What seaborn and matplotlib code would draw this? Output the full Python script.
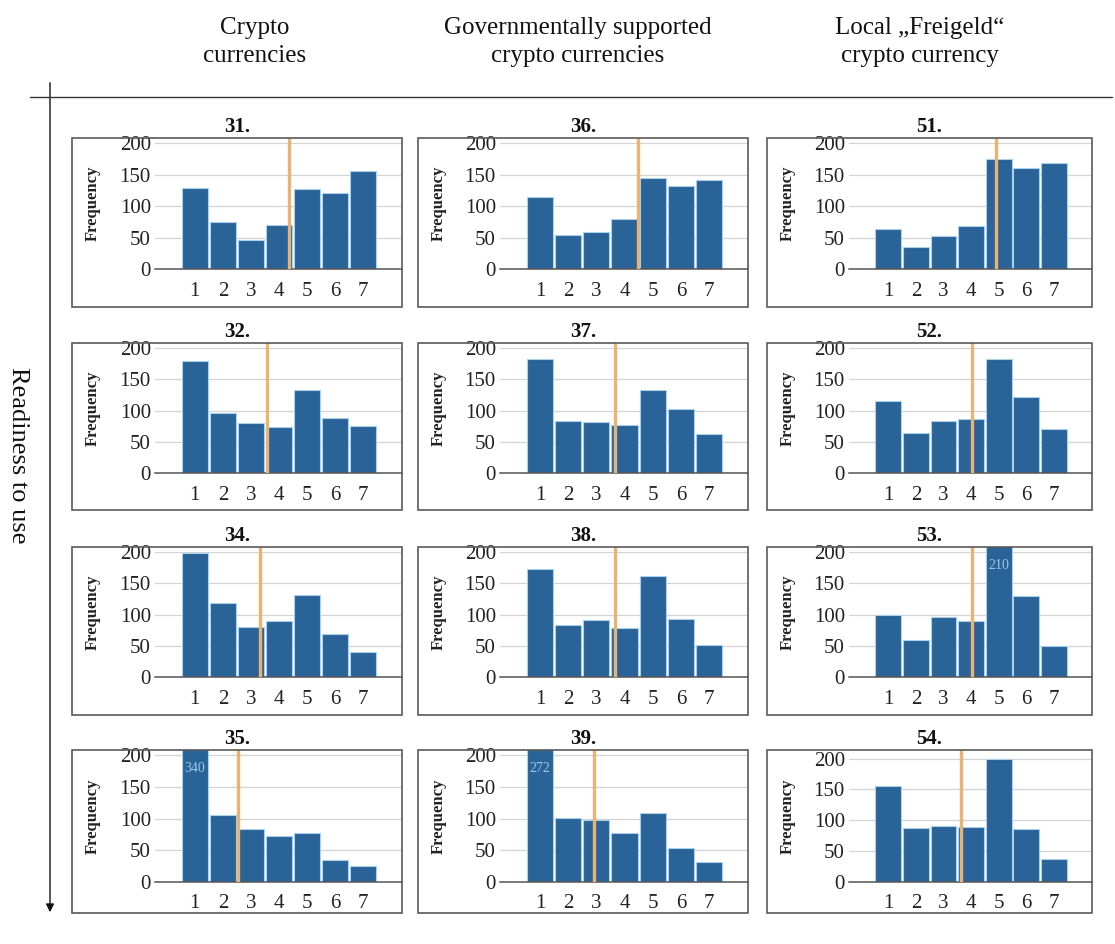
import numpy as np
import pandas as pd
import matplotlib
matplotlib.use("Agg")
import matplotlib.pyplot as plt
import seaborn as sns
from matplotlib.patches import Rectangle, FancyArrowPatch
from matplotlib.lines import Line2D
import matplotlib.transforms as mtransforms

# ---------------- data ----------------
levels = [1, 2, 3, 4, 5, 6, 7]
column_headers = ["Crypto\ncurrencies",
                  "Governmentally supported\ncrypto currencies",
                  "Local \u201eFreigeld\u201c\ncrypto currency"]
row_label = "Readiness to use"

titles = [["31.", "36.", "51."],
          ["32.", "37.", "52."],
          ["34.", "38.", "53."],
          ["35.", "39.", "54."]]

freq_31 = [128, 75, 46, 70, 127, 121, 155]
freq_36 = [114, 54, 58, 80, 144, 131, 141]
freq_51 = [64, 35, 52, 68, 174, 160, 169]
freq_32 = [180, 96, 80, 73, 133, 88, 75]
freq_37 = [182, 83, 82, 77, 133, 103, 63]
freq_52 = [115, 64, 84, 86, 183, 121, 70]
freq_34 = [199, 119, 80, 90, 131, 69, 40]
freq_38 = [172, 84, 91, 79, 161, 93, 52]
freq_53 = [99, 60, 96, 90, 210, 130, 49]
freq_35 = [340, 106, 83, 72, 77, 34, 25]
freq_39 = [272, 101, 98, 78, 108, 53, 31]
freq_54 = [155, 87, 90, 89, 199, 86, 37]

freqs = [[freq_31, freq_36, freq_51],
         [freq_32, freq_37, freq_52],
         [freq_34, freq_38, freq_53],
         [freq_35, freq_39, freq_54]]

mean_31, mean_36, mean_51 = 4.36, 4.48, 4.90
mean_32, mean_37, mean_52 = 3.58, 3.65, 4.05
mean_34, mean_38, mean_53 = 3.31, 3.65, 4.05
mean_35, mean_39, mean_54 = 2.54, 2.92, 3.62
means = [[mean_31, mean_36, mean_51],
         [mean_32, mean_37, mean_52],
         [mean_34, mean_38, mean_53],
         [mean_35, mean_39, mean_54]]

yticks = [0, 50, 100, 150, 200]
YMAX = 200

# ---------------- style ----------------
sns.set_theme(style="white")
plt.rcParams["font.family"] = ["Liberation Serif", "DejaVu Serif"]

W, H = 1115, 944
fig = plt.figure(figsize=(W / 100, H / 100), dpi=100)

def fx(x):
    return x / W

def fy(y):
    return 1 - y / H

BAR = "#2a6397"
EDGE = "#a9d0ec"
MEAN = "#e9b473"

box_x = [(72, 402), (418, 748), (767, 1092)]
axes_left = [155, 500, 849]
box_y = [(138, 307), (343, 510), (547, 715), (750, 913)]
axes_bottom = [269, 473, 677, 882]

for r in range(4):
    for c in range(3):
        bx0, bx1 = box_x[c]
        by0, by1 = box_y[r]
        al = axes_left[c]
        ab = axes_bottom[r]
        # outer box
        fig.add_artist(Rectangle((fx(bx0), fy(by1)), fx(bx1) - fx(bx0), fy(by0) - fy(by1),
                                 transform=fig.transFigure, fill=False,
                                 edgecolor="#5a5a5a", lw=1.2))
        ax = fig.add_axes([fx(al), fy(ab), fx(bx1) - fx(al), fy(by0) - fy(ab)])
        df = pd.DataFrame({"level": levels, "freq": freqs[r][c]})
        sns.barplot(data=df, x="level", y="freq", native_scale=True, color=BAR,
                    saturation=1, width=0.93, edgecolor=EDGE, linewidth=0.8,
                    errorbar=None, ax=ax, zorder=2)
        ax.set_xlim(-0.42, 8.38)
        ax.set_ylim(0, 214 if (r, c) == (3, 2) else 208)
        ax.set_yticks(yticks)
        ax.set_xticks(levels)
        ax.set_xticklabels([str(v) for v in levels])
        ax.grid(axis="y", color="#d4d4d4", lw=0.9, zorder=0)
        ax.set_axisbelow(True)
        for s in ["top", "right", "left"]:
            ax.spines[s].set_visible(False)
        ax.spines["bottom"].set_color("#555555")
        ax.spines["bottom"].set_linewidth(1.1)
        ax.tick_params(axis="x", length=0, pad=9, labelsize=15, colors="#222222")
        ax.tick_params(axis="y", length=0, pad=3, labelsize=15, colors="#222222")
        ax.set_xlabel("")
        ax.set_ylabel("")
        ax.axvline(means[r][c], color=MEAN, lw=2.4, zorder=3)
        # clipped bars annotation
        trans = mtransforms.blended_transform_factory(ax.transData, ax.transAxes)
        for lv, v in zip(levels, freqs[r][c]):
            if v > YMAX:
                ax.text(lv, 0.86, str(v), transform=trans, ha="center", va="center",
                        color="#9cc9ea", fontsize=10, zorder=4)
        # ylabel
        fig.text(fx(bx0 + 21), fy((by0 + ab) / 2), "Frequency", rotation=90,
                 ha="center", va="center", fontsize=12, fontweight="bold",
                 color="#222222")
        # title
        fig.text(fx((bx0 + bx1) / 2), fy(by0 - 11), titles[r][c], ha="center",
                 va="center", fontsize=15, fontweight="bold", color="#111111")

# column headers
for c, (cx, txt) in enumerate(zip([255, 578, 920], column_headers)):
    fig.text(fx(cx), fy(42), txt, ha="center", va="center", fontsize=18,
             linespacing=1.35, color="#111111")

# row label
fig.text(fx(18), fy(455), row_label, rotation=270, ha="center", va="center",
         fontsize=19, color="#111111")

# header rule and arrow
fig.add_artist(Line2D([fx(30), fx(1112)], [fy(97), fy(97)], transform=fig.transFigure,
                      color="#333333", lw=1.0))
fig.add_artist(FancyArrowPatch((fx(50), fy(80)), (fx(50), fy(915)),
                               transform=fig.transFigure, arrowstyle="-|>",
                               mutation_scale=12, color="#111111", lw=1.0))

fig.savefig("out.png", dpi=100)
